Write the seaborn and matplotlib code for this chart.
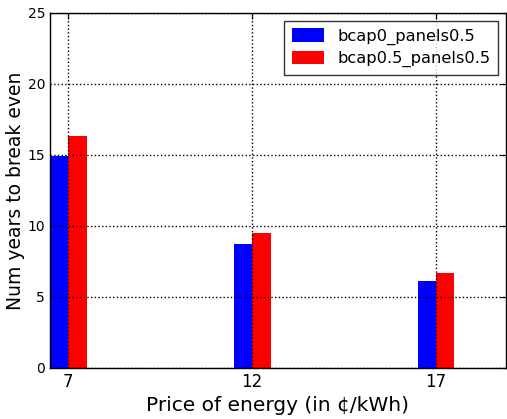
import matplotlib
matplotlib.use("Agg")
import matplotlib.pyplot as plt
import pandas as pd
import seaborn as sns

prices = [7, 12, 17]
bcap0 = [14.9, 8.7, 6.1]
bcap05 = [16.3, 9.5, 6.7]
series_names = ["bcap0_panels0.5", "bcap0.5_panels0.5"]

df = pd.DataFrame({
    "price": prices * 2,
    "years": bcap0 + bcap05,
    "series": [series_names[0]] * 3 + [series_names[1]] * 3,
})

sns.set_style("white", {"xtick.direction": "in", "ytick.direction": "in",
                        "text.color": "black", "axes.labelcolor": "black",
                        "xtick.color": "black", "ytick.color": "black"})
plt.rcParams["font.family"] = ["DejaVu Sans"]

fig = plt.figure(figsize=(5.07, 4.19), dpi=100)
ax = fig.add_axes([0.0986, 0.122, 0.899, 0.847])

sns.barplot(data=df, x="price", y="years", hue="series", native_scale=True,
            width=0.2, palette=["#0000ff", "#ff0000"], saturation=1,
            linewidth=0, ax=ax)

ax.set_xlim(6.5, 18.9)
ax.set_ylim(0, 25)
ax.set_xticks(prices)
ax.set_yticks(range(0, 26, 5))
ax.tick_params(axis="x", labelsize=12, direction="in", length=4, top=True)
ax.tick_params(axis="y", labelsize=10, direction="in", length=4, right=True)
ax.grid(True, color="black", linestyle=":", linewidth=1)
ax.set_axisbelow(False)
for s in ax.spines.values():
    s.set_color("black")
    s.set_linewidth(1)

ax.set_xlabel("Price of energy (in ¢/kWh)", fontsize=14.5)
ax.set_ylabel("Num years to break even", fontsize=13.5, labelpad=2)

leg = ax.legend(loc="upper right", fontsize=11.7, frameon=True, fancybox=False,
                handlelength=2.0, handleheight=0.9, borderpad=0.45,
                labelspacing=0.35, handletextpad=0.8, borderaxespad=0.5)
leg.get_frame().set_edgecolor("black")
leg.get_frame().set_linewidth(1)
leg.set_title(None)

fig.savefig("out.png", dpi=100)
